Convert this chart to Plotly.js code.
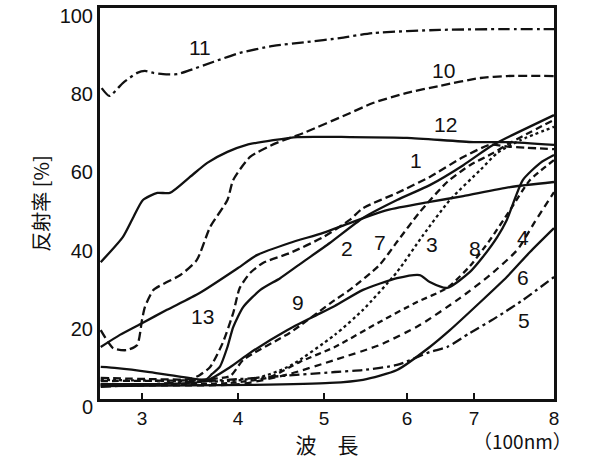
<!DOCTYPE html>
<html>
<head>
<meta charset="utf-8">
<script src="https://cdn.plot.ly/plotly-3.0.1.min.js"></script>
<style>
  html, body { margin: 0; padding: 0; background: #fff; }
  #chart { width: 605px; height: 468px; }
</style>
</head>
<body>
<div id="chart"></div>
<script>
// 波長 (100nm) と 反射率 (%) -- 図から読み取った値
const w11 = [2.58, 2.66, 2.8, 2.95, 3.03, 3.12, 3.22, 3.37, 3.5, 3.74, 4.02, 4.41, 4.8, 5.19, 5.59, 6.49, 7.41, 8.0];
const r11 = [79.5, 77.5, 80.8, 83.4, 83.9, 83.4, 83.1, 83.1, 84.1, 86.2, 88.5, 90.3, 91.3, 92.3, 93.6, 94.4, 94.6, 94.6];

const w10 = [2.57, 2.7, 2.84, 2.95, 3.0, 3.03, 3.12, 3.26, 3.4, 3.57, 3.71, 3.89, 3.95, 4.14, 4.45, 4.76, 5.31, 5.59, 6.0, 6.49, 7.08, 7.41, 8.0];
const r10 = [17.6, 13.0, 12.5, 13.8, 20.2, 23.5, 27.9, 29.9, 31.7, 35.5, 44.0, 50.9, 56.0, 61.9, 65.5, 68.0, 73.1, 75.7, 78.3, 80.1, 82.1, 82.6, 82.6];

const w12 = [2.57, 2.8, 2.91, 3.01, 3.16, 3.29, 3.5, 3.68, 3.89, 4.1, 4.41, 4.69, 5.31, 6.0, 6.99, 7.41, 8.0];
const r12 = [35.0, 41.4, 46.5, 50.9, 52.7, 52.7, 56.8, 60.4, 63.2, 65.0, 66.2, 67.0, 67.0, 66.8, 65.7, 65.7, 65.0];

const w13 = [2.57, 2.77, 3.0, 3.26, 3.6, 4.0, 4.22, 4.6, 4.99, 5.31, 5.76, 6.34, 6.84, 7.45, 8.0];
const r13 = [13.3, 16.4, 19.4, 22.8, 27.1, 33.5, 36.8, 39.9, 42.5, 45.0, 48.3, 50.4, 51.9, 54.2, 55.5];

const w1 = [2.57, 3.08, 3.5, 3.6, 3.71, 3.84, 3.95, 4.02, 4.14, 4.29, 4.6, 4.99, 5.31, 5.47, 5.88, 6.34, 6.84, 7.2, 7.45, 8.0];
const r1 = [5.4, 5.1, 5.1, 6.1, 8.2, 14.3, 22.0, 28.4, 32.2, 34.8, 37.3, 41.4, 45.8, 48.8, 52.7, 56.8, 61.9, 65.0, 64.5, 63.9];

const w2 = [2.57, 2.74, 3.08, 3.43, 3.66, 3.73, 3.81, 3.89, 3.95, 4.06, 4.26, 4.49, 4.72, 5.07, 5.47, 5.88, 6.34, 6.84, 7.2, 7.41, 8.0];
const r2 = [8.2, 7.9, 6.9, 5.6, 4.9, 6.4, 8.2, 13.3, 18.4, 23.5, 27.9, 30.9, 34.5, 39.9, 46.3, 50.9, 54.7, 59.8, 64.5, 66.8, 72.6];

const w3 = [2.57, 3.92, 4.26, 4.6, 5.13, 5.47, 5.88, 6.24, 6.64, 7.08, 7.29, 7.58, 8.0];
const r3 = [4.9, 4.6, 5.6, 8.4, 16.4, 22.8, 32.5, 41.9, 50.9, 58.6, 62.9, 66.2, 69.6];

const w4 = [2.57, 4.02, 4.6, 5.13, 5.67, 6.19, 6.79, 7.2, 7.54, 7.76, 8.0];
const r4 = [3.6, 3.8, 6.4, 10.0, 13.8, 18.9, 25.8, 31.7, 38.1, 45.3, 52.9];

const w5 = [2.57, 4.02, 5.13, 5.47, 5.88, 6.34, 6.6, 6.94, 7.29, 7.61, 8.0];
const r5 = [3.1, 5.1, 6.9, 7.4, 8.7, 12.0, 13.3, 16.9, 21.0, 25.3, 31.2];

const w6 = [2.57, 4.14, 5.07, 5.47, 5.88, 6.34, 6.64, 7.08, 7.41, 7.7, 8.0];
const r6 = [3.3, 3.6, 4.1, 4.9, 7.4, 13.3, 17.6, 24.8, 31.2, 37.6, 43.7];

const w7 = [2.57, 3.6, 3.92, 4.06, 4.6, 5.13, 5.31, 5.67, 5.88, 6.19, 6.6, 6.94, 7.24, 7.45, 8.0];
const r7 = [4.6, 4.9, 5.9, 10.0, 16.9, 25.3, 27.9, 34.3, 40.2, 47.8, 55.5, 59.8, 62.9, 65.5, 71.4];

const w8 = [2.57, 3.92, 4.37, 4.72, 5.13, 5.67, 6.15, 6.6, 6.94, 7.2, 7.45, 7.7, 8.0];
const r8 = [3.8, 4.1, 5.6, 9.5, 13.3, 19.7, 24.8, 28.4, 34.0, 40.7, 48.3, 56.0, 61.1];

const w9 = [2.57, 3.66, 3.92, 4.14, 4.57, 4.87, 5.13, 5.47, 5.88, 6.19, 6.34, 6.6, 6.94, 7.11, 7.29, 7.41, 7.61, 7.83, 8.0];
const r9 = [3.8, 4.6, 8.2, 11.8, 17.6, 21.0, 23.8, 27.9, 30.9, 31.7, 29.9, 28.4, 32.5, 36.3, 41.4, 45.8, 56.0, 60.4, 62.4];

// 曲線番号ラベル
const labelText = ['1', '2', '3', '4', '5', '6', '7', '8', '9', '10', '11', '12', '13'];
const labelWl   = [6.13, 5.28, 6.37, 7.61, 7.62, 7.61, 5.67, 7.01, 4.70, 6.54, 3.60, 6.57, 3.63];
const labelR    = [61.1, 38.6, 39.6, 41.2, 20.2, 31.2, 39.9, 38.6, 24.8, 84.1, 89.8, 70.1, 21.2];

// 横軸の目盛り (原図の目盛り間隔は等間隔ではない)
const tickWl  = [3, 4, 5, 6, 7, 8];
const tickPos = [42, 138, 224, 307, 374, 454];

const wlPos = w => {
    if (w <= tickWl[0]) return tickPos[0] + (w - tickWl[0]) * (tickPos[1] - tickPos[0]);
    for (let i = 1; i < tickWl.length; i++) {
        if (w <= tickWl[i]) {
            let f = (w - tickWl[i-1]) / (tickWl[i] - tickWl[i-1]);
            return tickPos[i-1] + f * (tickPos[i] - tickPos[i-1]);
        }
    }
    return tickPos[tickPos.length - 1];
};

const DASHED = '8px,4px';
const series = [
    {w: w11, r: r11, dash: '12px,4px,3px,4px'},
    {w: w10, r: r10, dash: '9px,4px'},
    {w: w12, r: r12, dash: 'solid'},
    {w: w13, r: r13, dash: 'solid'},
    {w: w1,  r: r1,  dash: DASHED},
    {w: w2,  r: r2,  dash: 'solid'},
    {w: w3,  r: r3,  dash: '3px,3px'},
    {w: w4,  r: r4,  dash: '7px,5px'},
    {w: w5,  r: r5,  dash: '10px,4px,3px,4px'},
    {w: w6,  r: r6,  dash: 'solid'},
    {w: w7,  r: r7,  dash: '7px,4px'},
    {w: w8,  r: r8,  dash: '6px,4px'},
    {w: w9,  r: r9,  dash: 'solid'}
];

const traces = series.map(s => ({
    x: s.w.map(wlPos),
    y: s.r,
    type: 'scatter',
    mode: 'lines',
    line: {color: '#111', width: 2.3, dash: s.dash, shape: 'spline', smoothing: 0.6},
    hoverinfo: 'skip'
}));

const annotations = labelText.map((t, i) => ({
    x: wlPos(labelWl[i]), y: labelR[i], xref: 'x', yref: 'y',
    text: t, showarrow: false,
    font: {family: 'Liberation Sans, Arial, sans-serif', size: 21, color: '#111'}
}));
annotations.push({
    x: 0.93, y: -0.107, xref: 'paper', yref: 'paper',
    xanchor: 'center', yanchor: 'middle',
    text: '（100nm）', showarrow: false,
    font: {family: 'Liberation Sans Narrow, Noto Sans CJK JP, sans-serif', size: 19, color: '#111'}
});

const layout = {
    width: 605,
    height: 468,
    margin: {l: 100, r: 51, t: 8, b: 69},
    paper_bgcolor: '#fff',
    plot_bgcolor: '#fff',
    showlegend: false,
    xaxis: {
        range: [0, 454],
        tickvals: tickPos,
        ticktext: tickWl.map(String),
        ticks: 'inside', ticklen: 6, tickwidth: 2, tickcolor: '#111',
        showline: true, linewidth: 3, linecolor: '#111', mirror: true,
        showgrid: false, zeroline: false,
        tickfont: {family: 'Liberation Sans Narrow, Liberation Sans, sans-serif', size: 19, color: '#111'},
        title: {text: '波　長', standoff: 8,
                font: {family: 'Noto Sans CJK JP, sans-serif', size: 21, color: '#111'}}
    },
    yaxis: {
        range: [0, 100],
        tickvals: [0, 20, 40, 60, 80, 100],
        ticks: '',
        ticklabelshift: 8,
        ticklabeloverflow: 'allow',
        showline: true, linewidth: 3, linecolor: '#111', mirror: true,
        showgrid: false, zeroline: false,
        tickfont: {family: 'Liberation Sans, Arial, sans-serif', size: 20, color: '#111'},
        title: {text: '反射率 [%]', standoff: 5,
                font: {family: 'Noto Sans CJK JP, sans-serif', size: 20, color: '#111'}}
    },
    annotations: annotations
};

Plotly.newPlot('chart', traces, layout, {staticPlot: true, displayModeBar: false});
</script>
</body>
</html>
